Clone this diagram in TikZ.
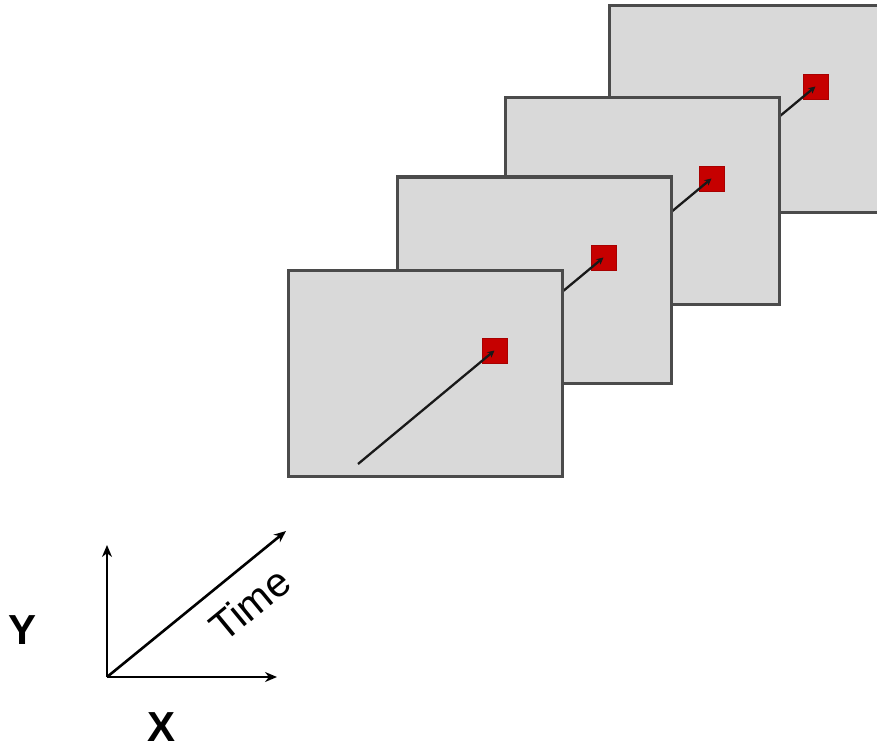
\documentclass[tikz,border=0pt]{standalone}
\usepackage{fontspec}
\setmainfont{Liberation Sans}
\usetikzlibrary{arrows.meta,calc}
\definecolor{framegray}{RGB}{75,75,75}
\definecolor{panelgray}{RGB}{217,217,217}
\definecolor{markred}{RGB}{198,0,0}
\definecolor{trackblack}{RGB}{25,25,25}
\begin{document}
\begin{tikzpicture}[x=1pt,y=-1pt,
  frame/.style={draw=framegray, fill=panelgray, line width=3pt,
    minimum width=274pt, minimum height=206pt, anchor=north west,
    inner sep=0pt, outer sep=0pt},
  marker/.style={fill=markred, draw=markred!85!black, line width=0.4pt,
    minimum size=25pt, inner sep=0pt},
  track/.style={line width=2.3pt, draw=trackblack,
    -{Stealth[length=7pt,width=7pt]}},
  axis/.style={line width=2.6pt, -{Stealth[length=12pt,width=10pt]}},
  axlabel/.style={font=\bfseries\fontsize{42}{44}\selectfont, inner sep=0pt}
]
\useasboundingbox (0,0) rectangle (877,746);
\clip (0,0) rectangle (877,746);

% stacked frames, back to front, each with its moving marker and track
\foreach \n/\px/\py in {4/609/6, 3/505/98, 2/397/177, 1/288/270} {
  \node[frame] (f\n) at (\px,\py) {};
  \node[marker] (m\n) at ($(f\n.north west)+(206.5,80.5)$) {};
  \coordinate (s\n) at ($(f\n.north west)+(70,194)$);
  \draw[track] (s\n) -- (m\n.center);
}

% axes
\coordinate (o) at (107,677);
\coordinate (ytip) at (107,545);
\coordinate (xtip) at (277,677);
\coordinate (ttip) at (286,531);
\draw[axis] (o) -- (ytip);
\draw[axis] (o) -- (xtip);
\draw[axis] (o) -- (ttip);

\node[axlabel] (ylab) at (23,630) {Y};
\node[axlabel] (xlab) at (162,727) {X};
\node[rotate=39.5, font=\fontsize{41}{43}\selectfont, inner sep=0pt]
  (tlab) at (250,604) {Time};
\end{tikzpicture}
\end{document}
